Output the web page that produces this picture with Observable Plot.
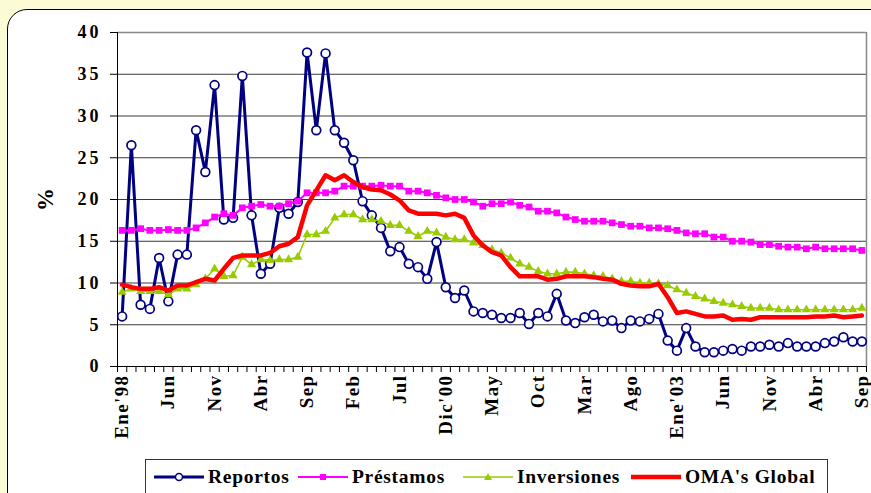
<!DOCTYPE html>
<html>
<head>
<meta charset="utf-8">
<script src="https://cdn.jsdelivr.net/npm/d3@7"></script>
<script src="https://cdn.jsdelivr.net/npm/@observablehq/plot@0.6"></script>
<style>
  html, body { margin: 0; padding: 0; }
  body { width: 871px; height: 493px; overflow: hidden; position: relative; background: #fbfbd6; font-family: "Liberation Serif", "DejaVu Serif", "Times New Roman", serif; }
  #panel { position: absolute; left: 7px; top: 9px; width: 900px; height: 520px; border: 1.5px solid #000; border-radius: 20px; background: #fff; }
  #chart { position: absolute; left: 0; top: 0; }
  #legend { position: absolute; left: 145px; top: 459px; width: 681px; height: 60px; border: 1px solid #333; background: #fff; }
  .entry { position: absolute; top: 4px; height: 26px; display: flex; align-items: center; }
  .entry span { font-family: "Liberation Serif", "DejaVu Serif", "Times New Roman", serif; font-weight: bold; font-size: 19.5px; letter-spacing: 0.7px; color: #000; margin-left: 4px; white-space: nowrap; }
  #chart svg text { font-family: "Liberation Serif", "DejaVu Serif", "Times New Roman", serif; font-weight: bold; }
  #chart svg g[aria-label="y-axis tick label"] text { font-size: 18px; letter-spacing: 3px; }
  #chart svg g[aria-label="x-axis tick label"] text { font-size: 19px; letter-spacing: 1.4px; }
</style>
</head>
<body>
<div id="panel"></div>
<div id="chart"></div>
<div id="legend"></div>
<script>
// Tick labels every 5 months starting Ene'98 (index 0)
const tickLabels = ["Ene'98","Jun","Nov","Abr","Sep","Feb","Jul","Dic'00","May","Oct","Mar","Ago","Ene'03","Jun","Nov","Abr","Sep"];
const seriesNames = ["Reportos","Préstamos","Inversiones","OMA's Global"];

// Monthly values Jan 1998 .. Sep 2004 (81 months), in %
const reportos = [6.0,26.5,7.4,6.9,13.0,7.8,13.4,13.4,28.3,23.3,33.7,17.6,17.8,34.8,18.1,11.1,12.3,19.0,18.3,19.7,
  37.6,28.3,37.5,28.3,26.8,24.7,19.8,18.1,16.6,13.8,14.3,12.3,11.9,10.5,14.9,9.5,8.2,9.1,6.6,6.4,
  6.2,5.8,5.8,6.4,5.1,6.4,6.0,8.7,5.5,5.2,5.9,6.2,5.4,5.5,4.6,5.5,5.4,5.7,6.3,3.1,
  1.9,4.6,2.4,1.7,1.7,1.9,2.1,1.9,2.4,2.4,2.6,2.4,2.8,2.4,2.4,2.4,2.8,3.0,3.5,3.0,3.0];
const prestamos = [16.3,16.3,16.5,16.3,16.3,16.4,16.3,16.3,16.6,17.2,17.9,18.3,18.1,19.0,19.2,19.4,19.2,19.2,19.5,19.8,
  20.8,20.8,20.8,21.0,21.6,21.6,21.6,21.6,21.7,21.6,21.6,21.0,21.0,20.8,20.5,20.2,20.0,20.0,19.7,19.2,
  19.5,19.5,19.7,19.3,19.1,18.6,18.6,18.4,17.9,17.6,17.4,17.4,17.4,17.2,17.0,16.8,16.8,16.6,16.6,16.5,
  16.3,16.0,15.9,15.9,15.5,15.5,15.0,15.0,14.9,14.6,14.6,14.4,14.3,14.3,14.1,14.3,14.1,14.1,14.1,14.1,13.9];
const inversiones = [8.9,9.3,9.0,9.0,9.0,8.6,9.3,9.3,9.8,10.5,11.7,10.8,10.9,13.1,12.2,12.8,12.7,12.8,12.8,13.1,
  15.8,15.8,16.2,17.8,18.2,18.2,17.6,17.6,17.4,16.9,16.9,16.2,15.6,16.2,16.0,15.5,15.2,15.2,14.8,14.5,
  14.0,13.6,13.0,12.3,11.9,11.4,11.1,11.1,11.3,11.3,11.1,10.9,10.8,10.5,10.2,10.2,10.0,10.0,9.9,9.7,
  9.2,8.8,8.4,8.1,7.8,7.6,7.4,7.2,7.0,7.0,7.0,6.8,6.8,6.8,6.8,6.8,6.8,6.8,6.8,6.8,7.0];
const omaGlobal = [9.8,9.5,9.3,9.3,9.5,9.1,9.7,9.7,10.1,10.5,10.3,11.7,13.0,13.3,13.3,13.3,13.6,14.4,14.7,15.5,
  19.3,21.1,22.9,22.3,22.9,22.1,21.5,21.2,21.1,20.6,19.9,18.7,18.3,18.3,18.3,18.1,18.3,17.8,15.7,14.5,
  13.7,13.3,11.9,10.8,10.8,10.8,10.4,10.5,10.8,10.8,10.8,10.7,10.5,10.4,9.9,9.7,9.6,9.6,9.9,8.3,
  6.4,6.6,6.3,6.0,6.0,6.1,5.6,5.7,5.6,5.9,5.9,5.9,5.9,5.9,5.9,6.0,6.0,6.1,5.9,6.0,6.1];
const yTicks = [0,5,10,15,20,25,30,35,40];
const yLabel = "%";

const n = reportos.length;
const idx = d3.range(n);
const rows = arr => idx.map(i => ({i, v: arr[i]}));
const tickIdx = tickLabels.map((_, k) => k * 5);
const boundaries = d3.range(n + 1).map(k => k - 0.5);

const colors = {rep: "#000080", pre: "#ff00ff", inv: "#99cc00", oma: "#ff0000"};
const serif = "'Liberation Serif', 'DejaVu Serif', 'Times New Roman', serif";

const W = 871, mL = 117, mR = 5;
const pxPerUnit = (W - mL - mR) / n;

const chart = Plot.plot({
  width: W,
  height: 440,
  marginLeft: mL,
  marginRight: mR,
  marginTop: 32,
  marginBottom: 74,
  style: {background: "transparent", fontFamily: serif, fontSize: "18px", fontWeight: "bold", color: "#000", overflow: "visible"},
  x: {type: "linear", domain: [-0.5, n - 0.5]},
  y: {domain: [0, 40]},
  marks: [
    Plot.ruleY(yTicks.filter(t => t > 0 && t < 40), {stroke: "#3a3a3a", strokeWidth: 1}),
    Plot.ruleY([40], {stroke: "#888", strokeWidth: 1.5}),
    Plot.ruleX([n - 0.5], {stroke: "#888", strokeWidth: 1.5}),
    Plot.axisY({ticks: yTicks, tickSize: 7, tickPadding: 9, label: null}),
    Plot.axisX({ticks: boundaries, tickSize: 6, tickFormat: () => "", label: null}),
    Plot.axisX({ticks: tickIdx, tickSize: 0, tickPadding: 8, tickRotate: -90, tickFormat: (d) => tickLabels[Math.round(d / 5)], label: null}),
    Plot.ruleX([-0.5], {stroke: "#000", strokeWidth: 1}),
    Plot.ruleY([0], {stroke: "#000", strokeWidth: 1}),
    Plot.text([yLabel], {x: -0.5 - 72 / pxPerUnit, y: 20, text: d => d, rotate: -90, fontSize: 23, fontWeight: "bold", clip: false}),
    // Reportos
    Plot.line(rows(reportos), {x: "i", y: "v", stroke: colors.rep, strokeWidth: 3}),
    Plot.dot(rows(reportos), {x: "i", y: "v", r: 4.4, fill: "#fff", stroke: colors.rep, strokeWidth: 1.7}),
    // Préstamos
    Plot.line(rows(prestamos), {x: "i", y: "v", stroke: colors.pre, strokeWidth: 2}),
    Plot.dot(rows(prestamos), {x: "i", y: "v", symbol: "square", r: 3.8, fill: colors.pre, stroke: "none"}),
    // Inversiones
    Plot.line(rows(inversiones), {x: "i", y: "v", stroke: colors.inv, strokeWidth: 1.6}),
    Plot.dot(rows(inversiones), {x: "i", y: "v", symbol: "triangle", r: 3.4, fill: colors.inv, stroke: "none"}),
    // OMA's Global
    Plot.line(rows(omaGlobal), {x: "i", y: "v", stroke: colors.oma, strokeWidth: 4.5})
  ]
});
document.getElementById("chart").appendChild(chart);

// Legend
const legendSpec = [
  {name: seriesNames[0], left: 8, color: colors.rep, w: 3, marker: "circle"},
  {name: seriesNames[1], left: 152, color: colors.pre, w: 2, marker: "square"},
  {name: seriesNames[2], left: 317, color: colors.inv, w: 1.6, marker: "triangle"},
  {name: seriesNames[3], left: 485, color: colors.oma, w: 4.5, marker: null}
];
const legend = document.getElementById("legend");
for (const s of legendSpec) {
  const e = document.createElement("div");
  e.className = "entry";
  e.style.left = s.left + "px";
  let m = "";
  if (s.marker === "circle") m = `<circle cx="25" cy="13" r="3.5" fill="#fff" stroke="${s.color}" stroke-width="1.5"/>`;
  if (s.marker === "square") m = `<rect x="22" y="10" width="6" height="6" fill="${s.color}"/>`;
  if (s.marker === "triangle") m = `<path d="M25,9 L29,16 L21,16 Z" fill="${s.color}"/>`;
  e.innerHTML = `<svg width="50" height="26"><line x1="0" x2="50" y1="13" y2="13" stroke="${s.color}" stroke-width="${s.w}"/>${m}</svg><span>${s.name}</span>`;
  legend.appendChild(e);
}
</script>
</body>
</html>
